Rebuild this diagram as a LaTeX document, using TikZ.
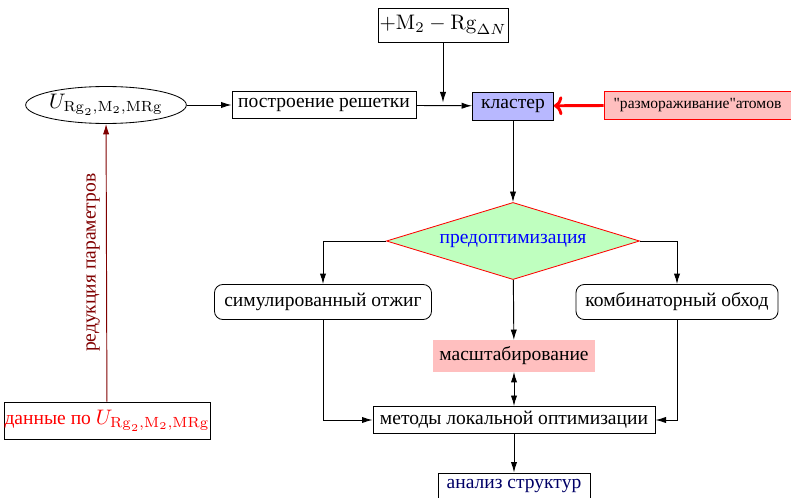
\documentclass[tikz,border=0pt]{standalone}
\usepackage[no-math]{fontspec}
\setmainfont{Liberation Serif}
\newfontfamily\nqfont[Ligatures=TeXOff]{Liberation Serif}
\usetikzlibrary{shapes.geometric,arrows.meta,positioning}
\begin{document}
\begin{tikzpicture}[x=0.476pt,y=-0.476pt,
  every node/.style={font=\fontsize{9.3}{11}\selectfont, inner sep=0pt},
  mathfont/.style={font=\fontsize{10}{12}\selectfont},
  plain/.style={draw, rectangle, line width=0.4pt},
  rbox/.style={draw, rectangle, rounded corners=4pt, line width=0.4pt},
  conn/.style={draw, line width=0.45pt, -{Latex[length=5pt,width=3pt]}},
  dconn/.style={draw, line width=0.45pt, {Latex[length=5pt,width=3pt]}-{Latex[length=5pt,width=3pt]}}
]
\useasboundingbox (0,0) rectangle (791,498);
\node[plain, mathfont, minimum width=61.9pt, minimum height=16.2pt] (top) at (443,25) {$+\mathrm{M}_2-\mathrm{Rg}_{\Delta N}$};
\node[draw, ellipse, mathfont, minimum width=74.8pt, minimum height=17.6pt] (ell) at (106,105) {$U_{\mathrm{Rg}_2,\mathrm{M}_2,\mathrm{MRg}}$};
\node[plain, minimum width=87.6pt, minimum height=12.9pt] (postr) at (324,105) {построение решетки};
\node[plain, fill=blue!28, minimum width=38.6pt, minimum height=13.3pt] (klas) at (513,106) {кластер};
\node[draw=red, fill=red!25, rectangle, minimum width=89pt, minimum height=13.3pt, font=\nqfont\fontsize{7.4}{9}\selectfont] (razm) at (697.5,105) {"размораживание"атомов};
\node[draw=red, fill=green!25, diamond, aspect=3.3, minimum width=120.5pt, minimum height=36.7pt, text=blue] (dia) at (513,241) {предоптимизация};
\node[rbox, minimum width=103.3pt, minimum height=16.7pt] (sim) at (323,302) {симулированный отжиг};
\node[rbox, minimum width=96.2pt, minimum height=16.7pt] (komb) at (677,302) {комбинаторный обход};
\node[fill=red!25, rectangle, minimum width=77pt, minimum height=14.8pt] (mash) at (514,356) {масштабирование};
\node[plain, minimum width=134.3pt, minimum height=12.9pt] (met) at (514,420) {методы локальной оптимизации};
\node[plain, minimum width=72.4pt, minimum height=12.9pt, text=blue!40!black] (anal) at (514,486.5) {анализ структур};
\node[plain, minimum width=98pt, minimum height=17.6pt, text=red] (dan) at (107,420.5) {данные по {\fontsize{10}{12}\selectfont$U_{\mathrm{Rg}_2,\mathrm{M}_2,\mathrm{MRg}}$}};
\coordinate (tip) at (443,102.5);

\draw[conn] (ell) -- (postr);
\draw[conn] (postr) -- (klas);
\draw[conn] (top) -- (tip);
\draw[draw=red, line width=1.4pt, -{Computer Modern Rightarrow[length=4pt,width=9pt]}] (razm) -- (klas);
\draw[conn] (klas) -- (dia);
\draw[conn] (dia.west) -| (sim.north);
\draw[conn] (dia.east) -| (komb.north);
\draw[conn] (dia) -- (mash);
\draw[dconn] (mash) -- (met);
\draw[conn] (sim.south) |- (met.west);
\draw[conn] (komb.south) |- (met.east);
\draw[conn] (met) -- (anal);
\draw[draw=red!50!black, line width=0.45pt, -{Latex[length=5pt,width=3pt]}] (dan) -- node[midway, rotate=90, anchor=south, inner sep=3pt, text=red!50!black] {редукция параметров} (ell);
\end{tikzpicture}
\end{document}
